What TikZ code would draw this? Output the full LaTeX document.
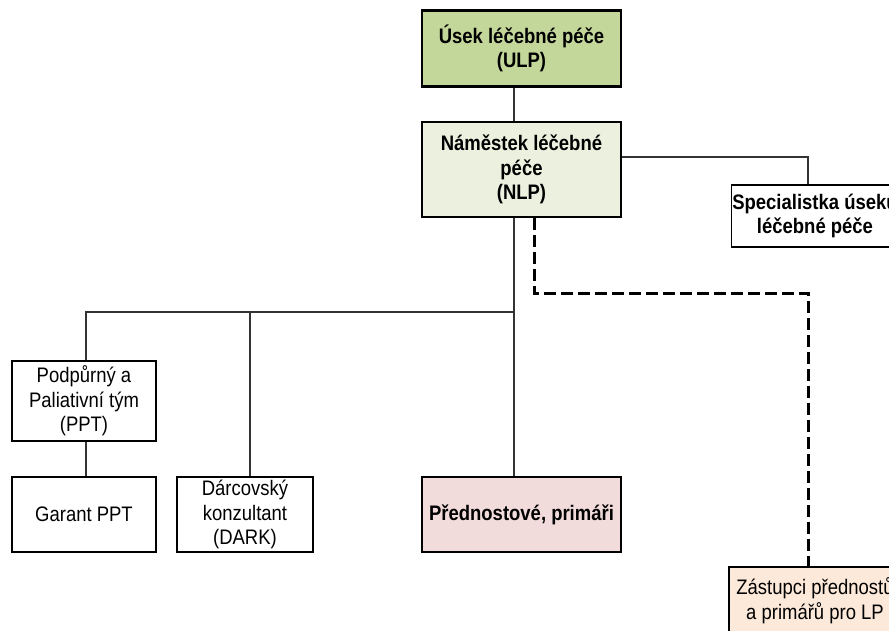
\documentclass[tikz,border=0pt]{standalone}
\usepackage{fontspec}
\setmainfont{Liberation Sans}[FakeStretch=0.88]
\definecolor{ulpgreen}{HTML}{C4D79B}
\definecolor{nlpgreen}{HTML}{EBF1DE}
\definecolor{predpink}{HTML}{F2DCDB}
\definecolor{zastpeach}{HTML}{FDE9D9}
\definecolor{linkgray}{HTML}{333333}
\begin{document}
\begin{tikzpicture}[x=1pt,y=-1pt,
        orgbox/.style={draw=black, line width=2.6pt, align=center, inner sep=1pt,
            font=\fontsize{21}{24.5}\selectfont},
        thinbox/.style={orgbox, line width=1.6pt},
        link/.style={draw=linkgray, line width=1.3pt},
        dashlink/.style={draw=black, line width=3pt, dash pattern=on 12pt off 5pt}]
        \useasboundingbox (0,0) rectangle (889,631);
        \clip (0,0) rectangle (889,631);
        % top of the chart
        \node[orgbox, fill=ulpgreen, minimum width=199pt, minimum height=76pt] (ulp) at (521.5,48.5) {\textbf{Úsek léčebné péče}\\\textbf{(ULP)}};
        \node[orgbox, fill=nlpgreen, minimum width=199pt, minimum height=95pt] (nlp) at (521.5,169.5) {\textbf{Náměstek léčebné}\\\textbf{péče}\\\textbf{(NLP)}};
        \node[thinbox, fill=white, minimum width=166pt, minimum height=62pt] (spec) at (815,216) {\textbf{Specialistka úseku}\\\textbf{léčebné péče}};
        % bottom row
        \node[orgbox, fill=white, minimum width=144pt, minimum height=80pt] (ppt) at (84,401) {Podpůrný a\\Paliativní tým\\(PPT)};
        \node[orgbox, fill=white, minimum width=144pt, minimum height=75pt] (garant) at (84,514.5) {Garant PPT};
        \node[orgbox, fill=white, minimum width=136pt, minimum height=75pt] (dark) at (245,514.5) {Dárcovský\\konzultant\\(DARK)};
        \node[orgbox, fill=predpink, minimum width=199pt, minimum height=75pt] (pred) at (521.5,514.5) {\textbf{Přednostové, primáři}};
        \node[orgbox, fill=zastpeach, minimum width=172pt, minimum height=67pt] (zast) at (815,600.5) {Zástupci přednostů\\a primářů pro LP};
        % connectors
        \coordinate (bus) at (514,312);
        \coordinate (dbend) at (534,293);
        \draw[link] ([xshift=-7.5pt]ulp.south) -- ([xshift=-7.5pt]nlp.north);
        \draw[link] ([xshift=-7.5pt]nlp.south) -- ([xshift=-7.5pt]pred.north);
        \draw[link] ([xshift=2pt]ppt.north) |- (bus);
        \draw[link] ([xshift=5pt]dark.north) -- ([xshift=5pt]dark.north |- bus);
        \draw[link] ([xshift=2pt]ppt.south) -- ([xshift=2pt]garant.north);
        \draw[link] ([yshift=12.5pt]nlp.east) -| ([xshift=-7pt]spec.north);
        \draw[dashlink] ([xshift=12.5pt]nlp.south) -- (dbend) -| ([xshift=-7pt]zast.north);
\end{tikzpicture}
\end{document}
